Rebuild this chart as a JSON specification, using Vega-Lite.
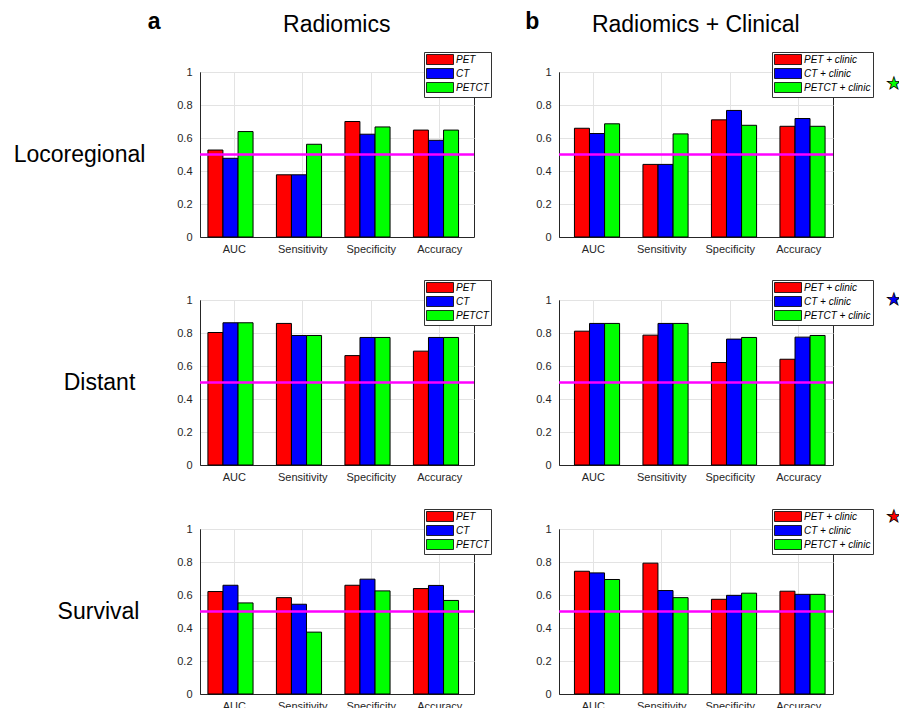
{
  "$schema": "https://vega.github.io/schema/vega-lite/v6.json",
  "padding": {"left": 12, "top": 10, "right": 5, "bottom": 5},
  "background": "white",
  "datasets": {
    "scores": [
      {"outcome": "Locoregional", "set": "a", "metric": "AUC", "model": "PET", "value": 0.527},
      {"outcome": "Locoregional", "set": "a", "metric": "AUC", "model": "CT", "value": 0.477},
      {"outcome": "Locoregional", "set": "a", "metric": "AUC", "model": "PETCT", "value": 0.639},
      {"outcome": "Locoregional", "set": "a", "metric": "Sensitivity", "model": "PET", "value": 0.377},
      {"outcome": "Locoregional", "set": "a", "metric": "Sensitivity", "model": "CT", "value": 0.377},
      {"outcome": "Locoregional", "set": "a", "metric": "Sensitivity", "model": "PETCT", "value": 0.562},
      {"outcome": "Locoregional", "set": "a", "metric": "Specificity", "model": "PET", "value": 0.700},
      {"outcome": "Locoregional", "set": "a", "metric": "Specificity", "model": "CT", "value": 0.623},
      {"outcome": "Locoregional", "set": "a", "metric": "Specificity", "model": "PETCT", "value": 0.667},
      {"outcome": "Locoregional", "set": "a", "metric": "Accuracy", "model": "PET", "value": 0.648},
      {"outcome": "Locoregional", "set": "a", "metric": "Accuracy", "model": "CT", "value": 0.586},
      {"outcome": "Locoregional", "set": "a", "metric": "Accuracy", "model": "PETCT", "value": 0.648},
      {"outcome": "Locoregional", "set": "b", "metric": "AUC", "model": "PET + clinic", "value": 0.659},
      {"outcome": "Locoregional", "set": "b", "metric": "AUC", "model": "CT + clinic", "value": 0.627},
      {"outcome": "Locoregional", "set": "b", "metric": "AUC", "model": "PETCT + clinic", "value": 0.686},
      {"outcome": "Locoregional", "set": "b", "metric": "Sensitivity", "model": "PET + clinic", "value": 0.440},
      {"outcome": "Locoregional", "set": "b", "metric": "Sensitivity", "model": "CT + clinic", "value": 0.440},
      {"outcome": "Locoregional", "set": "b", "metric": "Sensitivity", "model": "PETCT + clinic", "value": 0.625},
      {"outcome": "Locoregional", "set": "b", "metric": "Specificity", "model": "PET + clinic", "value": 0.710},
      {"outcome": "Locoregional", "set": "b", "metric": "Specificity", "model": "CT + clinic", "value": 0.767},
      {"outcome": "Locoregional", "set": "b", "metric": "Specificity", "model": "PETCT + clinic", "value": 0.677},
      {"outcome": "Locoregional", "set": "b", "metric": "Accuracy", "model": "PET + clinic", "value": 0.671},
      {"outcome": "Locoregional", "set": "b", "metric": "Accuracy", "model": "CT + clinic", "value": 0.718},
      {"outcome": "Locoregional", "set": "b", "metric": "Accuracy", "model": "PETCT + clinic", "value": 0.671},
      {"outcome": "Distant", "set": "a", "metric": "AUC", "model": "PET", "value": 0.803},
      {"outcome": "Distant", "set": "a", "metric": "AUC", "model": "CT", "value": 0.862},
      {"outcome": "Distant", "set": "a", "metric": "AUC", "model": "PETCT", "value": 0.862},
      {"outcome": "Distant", "set": "a", "metric": "Sensitivity", "model": "PET", "value": 0.858},
      {"outcome": "Distant", "set": "a", "metric": "Sensitivity", "model": "CT", "value": 0.785},
      {"outcome": "Distant", "set": "a", "metric": "Sensitivity", "model": "PETCT", "value": 0.785},
      {"outcome": "Distant", "set": "a", "metric": "Specificity", "model": "PET", "value": 0.663},
      {"outcome": "Distant", "set": "a", "metric": "Specificity", "model": "CT", "value": 0.773},
      {"outcome": "Distant", "set": "a", "metric": "Specificity", "model": "PETCT", "value": 0.773},
      {"outcome": "Distant", "set": "a", "metric": "Accuracy", "model": "PET", "value": 0.690},
      {"outcome": "Distant", "set": "a", "metric": "Accuracy", "model": "CT", "value": 0.773},
      {"outcome": "Distant", "set": "a", "metric": "Accuracy", "model": "PETCT", "value": 0.773},
      {"outcome": "Distant", "set": "b", "metric": "AUC", "model": "PET + clinic", "value": 0.811},
      {"outcome": "Distant", "set": "b", "metric": "AUC", "model": "CT + clinic", "value": 0.858},
      {"outcome": "Distant", "set": "b", "metric": "AUC", "model": "PETCT + clinic", "value": 0.858},
      {"outcome": "Distant", "set": "b", "metric": "Sensitivity", "model": "PET + clinic", "value": 0.787},
      {"outcome": "Distant", "set": "b", "metric": "Sensitivity", "model": "CT + clinic", "value": 0.858},
      {"outcome": "Distant", "set": "b", "metric": "Sensitivity", "model": "PETCT + clinic", "value": 0.858},
      {"outcome": "Distant", "set": "b", "metric": "Specificity", "model": "PET + clinic", "value": 0.621},
      {"outcome": "Distant", "set": "b", "metric": "Specificity", "model": "CT + clinic", "value": 0.763},
      {"outcome": "Distant", "set": "b", "metric": "Specificity", "model": "PETCT + clinic", "value": 0.773},
      {"outcome": "Distant", "set": "b", "metric": "Accuracy", "model": "PET + clinic", "value": 0.641},
      {"outcome": "Distant", "set": "b", "metric": "Accuracy", "model": "CT + clinic", "value": 0.775},
      {"outcome": "Distant", "set": "b", "metric": "Accuracy", "model": "PETCT + clinic", "value": 0.785},
      {"outcome": "Survival", "set": "a", "metric": "AUC", "model": "PET", "value": 0.621},
      {"outcome": "Survival", "set": "a", "metric": "AUC", "model": "CT", "value": 0.659},
      {"outcome": "Survival", "set": "a", "metric": "AUC", "model": "PETCT", "value": 0.552},
      {"outcome": "Survival", "set": "a", "metric": "Sensitivity", "model": "PET", "value": 0.584},
      {"outcome": "Survival", "set": "a", "metric": "Sensitivity", "model": "CT", "value": 0.544},
      {"outcome": "Survival", "set": "a", "metric": "Sensitivity", "model": "PETCT", "value": 0.375},
      {"outcome": "Survival", "set": "a", "metric": "Specificity", "model": "PET", "value": 0.659},
      {"outcome": "Survival", "set": "a", "metric": "Specificity", "model": "CT", "value": 0.696},
      {"outcome": "Survival", "set": "a", "metric": "Specificity", "model": "PETCT", "value": 0.625},
      {"outcome": "Survival", "set": "a", "metric": "Accuracy", "model": "PET", "value": 0.639},
      {"outcome": "Survival", "set": "a", "metric": "Accuracy", "model": "CT", "value": 0.658},
      {"outcome": "Survival", "set": "a", "metric": "Accuracy", "model": "PETCT", "value": 0.567},
      {"outcome": "Survival", "set": "b", "metric": "AUC", "model": "PET + clinic", "value": 0.744},
      {"outcome": "Survival", "set": "b", "metric": "AUC", "model": "CT + clinic", "value": 0.734},
      {"outcome": "Survival", "set": "b", "metric": "AUC", "model": "PETCT + clinic", "value": 0.694},
      {"outcome": "Survival", "set": "b", "metric": "Sensitivity", "model": "PET + clinic", "value": 0.793},
      {"outcome": "Survival", "set": "b", "metric": "Sensitivity", "model": "CT + clinic", "value": 0.627},
      {"outcome": "Survival", "set": "b", "metric": "Sensitivity", "model": "PETCT + clinic", "value": 0.584},
      {"outcome": "Survival", "set": "b", "metric": "Specificity", "model": "PET + clinic", "value": 0.574},
      {"outcome": "Survival", "set": "b", "metric": "Specificity", "model": "CT + clinic", "value": 0.598},
      {"outcome": "Survival", "set": "b", "metric": "Specificity", "model": "PETCT + clinic", "value": 0.611},
      {"outcome": "Survival", "set": "b", "metric": "Accuracy", "model": "PET + clinic", "value": 0.623},
      {"outcome": "Survival", "set": "b", "metric": "Accuracy", "model": "CT + clinic", "value": 0.604},
      {"outcome": "Survival", "set": "b", "metric": "Accuracy", "model": "PETCT + clinic", "value": 0.604}
    ],
    "chance": [{"chance": 0.5}],
    "panels": [{"set": "a", "heading": "Radiomics"}, {"set": "b", "heading": "Radiomics + Clinical"}],
    "best": [
      {"outcome": "Locoregional", "best": "PETCT + clinic"},
      {"outcome": "Distant", "best": "CT + clinic"},
      {"outcome": "Survival", "best": "PET + clinic"}
    ]
  },
  "config": {
    "font": "Liberation Sans",
    "view": {"stroke": "#262626", "strokeWidth": 1},
    "scale": {"offsetBandPaddingInner": 0, "offsetBandPaddingOuter": 0},
    "axis": {
      "labelFont": "Liberation Sans", "labelFontSize": 11, "labelColor": "#262626",
      "domainColor": "#262626", "gridColor": "#e3e3e3", "ticks": false, "labelPadding": 5,
      "labelOverlap": false
    },
    "axisX": {"labelAngle": 0, "grid": true, "labelPadding": 6},
    "axisY": {"labelPadding": 8, "labelOverlap": false, "labelFlush": false, "labelBound": false, "labelSeparation": 0},
    "legend": {
      "title": null,
      "strokeColor": "#333333", "fillColor": "white", "padding": 2,
      "symbolType": "M-1,-1H4.4V1H-1Z", "symbolSize": 100,
      "symbolStrokeColor": "#000000", "symbolStrokeWidth": 0.8,
      "labelFont": "Liberation Sans", "labelFontStyle": "italic", "labelFontSize": 10,
      "labelColor": "#000000", "labelOffset": 19, "rowPadding": -1
    }
  },
  "columns": 2,
  "spacing": {"row": 24, "column": 32},
  "resolve": {"scale": {"color": "independent"}, "legend": {"color": "independent"}},
  "concat": [
    {
      "width": 274, "height": 165,
      "layer": [
        {
          "data": {"name": "scores"},
          "transform": [{"filter": "datum.outcome === 'Locoregional' && datum.set === 'a'"}],
          "mark": {"type": "bar", "stroke": "#000000", "strokeWidth": 1, "width": 15},
          "encoding": {
            "x": {"field": "metric", "type": "nominal", "sort": ["AUC", "Sensitivity", "Specificity", "Accuracy"], "scale": {"paddingInner": 0.34, "paddingOuter": 0.17}, "axis": {"title": null}},
            "xOffset": {"field": "model", "type": "nominal", "sort": ["PET", "CT", "PETCT"], "scale": {"paddingInner": 0}},
            "y": {"field": "value", "type": "quantitative", "scale": {"domain": [0, 1]}, "axis": {"values": [0, 0.2, 0.4, 0.6, 0.8, 1], "format": "~g", "labelOverlap": false, "title": "Locoregional", "titleAngle": 0, "titleX": -121, "titleY": 82, "titleAlign": "center", "titleBaseline": "middle", "titleFontSize": 23, "titleFontWeight": "normal", "titleColor": "#000000"}},
            "color": {"field": "model", "type": "nominal", "scale": {"domain": ["PET", "CT", "PETCT"], "range": ["#FF0000", "#0000FF", "#00FF00"]}, "legend": {"orient": "none", "legendX": 224, "legendY": -20}}
          }
        },
        {
          "data": {"name": "chance"},
          "mark": {"type": "rule", "color": "#FF00FF", "strokeWidth": 2.5},
          "encoding": {"y": {"field": "chance", "type": "quantitative", "axis": {"values": [0, 0.2, 0.4, 0.6, 0.8, 1], "format": "~g", "labelOverlap": false, "title": "Locoregional", "titleAngle": 0, "titleX": -121, "titleY": 82, "titleAlign": "center", "titleBaseline": "middle", "titleFontSize": 23, "titleFontWeight": "normal", "titleColor": "#000000"}}}
        },
        {
          "data": {"name": "panels"},
          "transform": [{"filter": "datum.set === 'a'"}],
          "mark": {"type": "text", "fontSize": 23, "fontWeight": "bold", "baseline": "middle", "align": "center", "dx": -80, "dy": -50, "color": "#000000"},
          "encoding": {"x": {"datum": "AUC", "type": "nominal"}, "y": {"datum": 1, "type": "quantitative", "axis": {"values": [0, 0.2, 0.4, 0.6, 0.8, 1], "format": "~g", "labelOverlap": false, "title": "Locoregional", "titleAngle": 0, "titleX": -121, "titleY": 82, "titleAlign": "center", "titleBaseline": "middle", "titleFontSize": 23, "titleFontWeight": "normal", "titleColor": "#000000"}}, "text": {"field": "set", "type": "nominal"}}
        },
        {
          "data": {"name": "panels"},
          "transform": [{"filter": "datum.set === 'a'"}],
          "mark": {"type": "text", "fontSize": 23, "fontWeight": "normal", "baseline": "middle", "align": "center", "dx": 34, "dy": -47, "color": "#000000"},
          "encoding": {"x": {"datum": "Sensitivity", "type": "nominal"}, "y": {"datum": 1, "type": "quantitative", "axis": {"values": [0, 0.2, 0.4, 0.6, 0.8, 1], "format": "~g", "labelOverlap": false, "title": "Locoregional", "titleAngle": 0, "titleX": -121, "titleY": 82, "titleAlign": "center", "titleBaseline": "middle", "titleFontSize": 23, "titleFontWeight": "normal", "titleColor": "#000000"}}, "text": {"field": "heading", "type": "nominal"}}
        }
      ]
    },
    {
      "width": 274, "height": 165,
      "layer": [
        {
          "data": {"name": "scores"},
          "transform": [{"filter": "datum.outcome === 'Locoregional' && datum.set === 'b'"}],
          "mark": {"type": "bar", "stroke": "#000000", "strokeWidth": 1, "width": 15},
          "encoding": {
            "x": {"field": "metric", "type": "nominal", "sort": ["AUC", "Sensitivity", "Specificity", "Accuracy"], "scale": {"paddingInner": 0.34, "paddingOuter": 0.17}, "axis": {"title": null}},
            "xOffset": {"field": "model", "type": "nominal", "sort": ["PET + clinic", "CT + clinic", "PETCT + clinic"], "scale": {"paddingInner": 0}},
            "y": {"field": "value", "type": "quantitative", "scale": {"domain": [0, 1]}, "axis": {"values": [0, 0.2, 0.4, 0.6, 0.8, 1], "format": "~g", "labelOverlap": false, "title": null}},
            "color": {"field": "model", "type": "nominal", "scale": {"domain": ["PET + clinic", "CT + clinic", "PETCT + clinic"], "range": ["#FF0000", "#0000FF", "#00FF00"]}, "legend": {"orient": "none", "legendX": 213, "legendY": -20}}
          }
        },
        {
          "data": {"name": "chance"},
          "mark": {"type": "rule", "color": "#FF00FF", "strokeWidth": 2.5},
          "encoding": {"y": {"field": "chance", "type": "quantitative", "axis": {"values": [0, 0.2, 0.4, 0.6, 0.8, 1], "format": "~g", "labelOverlap": false, "title": null}}}
        },
        {
          "data": {"name": "panels"},
          "transform": [{"filter": "datum.set === 'b'"}],
          "mark": {"type": "text", "fontSize": 23, "fontWeight": "bold", "baseline": "middle", "align": "center", "dx": -61, "dy": -50, "color": "#000000"},
          "encoding": {"x": {"datum": "AUC", "type": "nominal"}, "y": {"datum": 1, "type": "quantitative", "axis": {"values": [0, 0.2, 0.4, 0.6, 0.8, 1], "format": "~g", "labelOverlap": false, "title": null}}, "text": {"field": "set", "type": "nominal"}}
        },
        {
          "data": {"name": "panels"},
          "transform": [{"filter": "datum.set === 'b'"}],
          "mark": {"type": "text", "fontSize": 23, "fontWeight": "normal", "baseline": "middle", "align": "center", "dx": 34, "dy": -47, "color": "#000000"},
          "encoding": {"x": {"datum": "Sensitivity", "type": "nominal"}, "y": {"datum": 1, "type": "quantitative", "axis": {"values": [0, 0.2, 0.4, 0.6, 0.8, 1], "format": "~g", "labelOverlap": false, "title": null}}, "text": {"field": "heading", "type": "nominal"}}
        },
        {
          "data": {"name": "best"},
          "transform": [{"filter": "datum.outcome === 'Locoregional'"}],
          "mark": {"type": "text", "text": "★", "font": "DejaVu Sans", "fontSize": 17, "baseline": "middle", "align": "center", "dx": 95, "dy": 12, "fill": "#00FF00", "stroke": "#000000", "strokeWidth": 0.8},
          "encoding": {"x": {"datum": "Accuracy", "type": "nominal"}, "y": {"datum": 1, "type": "quantitative", "axis": {"values": [0, 0.2, 0.4, 0.6, 0.8, 1], "format": "~g", "labelOverlap": false, "title": null}}}
        }
      ]
    },
    {
      "width": 274, "height": 165,
      "layer": [
        {
          "data": {"name": "scores"},
          "transform": [{"filter": "datum.outcome === 'Distant' && datum.set === 'a'"}],
          "mark": {"type": "bar", "stroke": "#000000", "strokeWidth": 1, "width": 15},
          "encoding": {
            "x": {"field": "metric", "type": "nominal", "sort": ["AUC", "Sensitivity", "Specificity", "Accuracy"], "scale": {"paddingInner": 0.34, "paddingOuter": 0.17}, "axis": {"title": null}},
            "xOffset": {"field": "model", "type": "nominal", "sort": ["PET", "CT", "PETCT"], "scale": {"paddingInner": 0}},
            "y": {"field": "value", "type": "quantitative", "scale": {"domain": [0, 1]}, "axis": {"values": [0, 0.2, 0.4, 0.6, 0.8, 1], "format": "~g", "labelOverlap": false, "title": "Distant", "titleAngle": 0, "titleX": -101, "titleY": 82, "titleAlign": "center", "titleBaseline": "middle", "titleFontSize": 23, "titleFontWeight": "normal", "titleColor": "#000000"}},
            "color": {"field": "model", "type": "nominal", "scale": {"domain": ["PET", "CT", "PETCT"], "range": ["#FF0000", "#0000FF", "#00FF00"]}, "legend": {"orient": "none", "legendX": 224, "legendY": -20}}
          }
        },
        {
          "data": {"name": "chance"},
          "mark": {"type": "rule", "color": "#FF00FF", "strokeWidth": 2.5},
          "encoding": {"y": {"field": "chance", "type": "quantitative", "axis": {"values": [0, 0.2, 0.4, 0.6, 0.8, 1], "format": "~g", "labelOverlap": false, "title": "Distant", "titleAngle": 0, "titleX": -101, "titleY": 82, "titleAlign": "center", "titleBaseline": "middle", "titleFontSize": 23, "titleFontWeight": "normal", "titleColor": "#000000"}}}
        }
      ]
    },
    {
      "width": 274, "height": 165,
      "layer": [
        {
          "data": {"name": "scores"},
          "transform": [{"filter": "datum.outcome === 'Distant' && datum.set === 'b'"}],
          "mark": {"type": "bar", "stroke": "#000000", "strokeWidth": 1, "width": 15},
          "encoding": {
            "x": {"field": "metric", "type": "nominal", "sort": ["AUC", "Sensitivity", "Specificity", "Accuracy"], "scale": {"paddingInner": 0.34, "paddingOuter": 0.17}, "axis": {"title": null}},
            "xOffset": {"field": "model", "type": "nominal", "sort": ["PET + clinic", "CT + clinic", "PETCT + clinic"], "scale": {"paddingInner": 0}},
            "y": {"field": "value", "type": "quantitative", "scale": {"domain": [0, 1]}, "axis": {"values": [0, 0.2, 0.4, 0.6, 0.8, 1], "format": "~g", "labelOverlap": false, "title": null}},
            "color": {"field": "model", "type": "nominal", "scale": {"domain": ["PET + clinic", "CT + clinic", "PETCT + clinic"], "range": ["#FF0000", "#0000FF", "#00FF00"]}, "legend": {"orient": "none", "legendX": 213, "legendY": -20}}
          }
        },
        {
          "data": {"name": "chance"},
          "mark": {"type": "rule", "color": "#FF00FF", "strokeWidth": 2.5},
          "encoding": {"y": {"field": "chance", "type": "quantitative", "axis": {"values": [0, 0.2, 0.4, 0.6, 0.8, 1], "format": "~g", "labelOverlap": false, "title": null}}}
        },
        {
          "data": {"name": "best"},
          "transform": [{"filter": "datum.outcome === 'Distant'"}],
          "mark": {"type": "text", "text": "★", "font": "DejaVu Sans", "fontSize": 17, "baseline": "middle", "align": "center", "dx": 95, "dy": 0, "fill": "#0000FF", "stroke": "#000000", "strokeWidth": 0.8},
          "encoding": {"x": {"datum": "Accuracy", "type": "nominal"}, "y": {"datum": 1, "type": "quantitative", "axis": {"values": [0, 0.2, 0.4, 0.6, 0.8, 1], "format": "~g", "labelOverlap": false, "title": null}}}
        }
      ]
    },
    {
      "width": 274, "height": 165,
      "layer": [
        {
          "data": {"name": "scores"},
          "transform": [{"filter": "datum.outcome === 'Survival' && datum.set === 'a'"}],
          "mark": {"type": "bar", "stroke": "#000000", "strokeWidth": 1, "width": 15},
          "encoding": {
            "x": {"field": "metric", "type": "nominal", "sort": ["AUC", "Sensitivity", "Specificity", "Accuracy"], "scale": {"paddingInner": 0.34, "paddingOuter": 0.17}, "axis": {"title": null}},
            "xOffset": {"field": "model", "type": "nominal", "sort": ["PET", "CT", "PETCT"], "scale": {"paddingInner": 0}},
            "y": {"field": "value", "type": "quantitative", "scale": {"domain": [0, 1]}, "axis": {"values": [0, 0.2, 0.4, 0.6, 0.8, 1], "format": "~g", "labelOverlap": false, "title": "Survival", "titleAngle": 0, "titleX": -102, "titleY": 82, "titleAlign": "center", "titleBaseline": "middle", "titleFontSize": 23, "titleFontWeight": "normal", "titleColor": "#000000"}},
            "color": {"field": "model", "type": "nominal", "scale": {"domain": ["PET", "CT", "PETCT"], "range": ["#FF0000", "#0000FF", "#00FF00"]}, "legend": {"orient": "none", "legendX": 224, "legendY": -20}}
          }
        },
        {
          "data": {"name": "chance"},
          "mark": {"type": "rule", "color": "#FF00FF", "strokeWidth": 2.5},
          "encoding": {"y": {"field": "chance", "type": "quantitative", "axis": {"values": [0, 0.2, 0.4, 0.6, 0.8, 1], "format": "~g", "labelOverlap": false, "title": "Survival", "titleAngle": 0, "titleX": -102, "titleY": 82, "titleAlign": "center", "titleBaseline": "middle", "titleFontSize": 23, "titleFontWeight": "normal", "titleColor": "#000000"}}}
        }
      ]
    },
    {
      "width": 274, "height": 165,
      "layer": [
        {
          "data": {"name": "scores"},
          "transform": [{"filter": "datum.outcome === 'Survival' && datum.set === 'b'"}],
          "mark": {"type": "bar", "stroke": "#000000", "strokeWidth": 1, "width": 15},
          "encoding": {
            "x": {"field": "metric", "type": "nominal", "sort": ["AUC", "Sensitivity", "Specificity", "Accuracy"], "scale": {"paddingInner": 0.34, "paddingOuter": 0.17}, "axis": {"title": null}},
            "xOffset": {"field": "model", "type": "nominal", "sort": ["PET + clinic", "CT + clinic", "PETCT + clinic"], "scale": {"paddingInner": 0}},
            "y": {"field": "value", "type": "quantitative", "scale": {"domain": [0, 1]}, "axis": {"values": [0, 0.2, 0.4, 0.6, 0.8, 1], "format": "~g", "labelOverlap": false, "title": null}},
            "color": {"field": "model", "type": "nominal", "scale": {"domain": ["PET + clinic", "CT + clinic", "PETCT + clinic"], "range": ["#FF0000", "#0000FF", "#00FF00"]}, "legend": {"orient": "none", "legendX": 213, "legendY": -20}}
          }
        },
        {
          "data": {"name": "chance"},
          "mark": {"type": "rule", "color": "#FF00FF", "strokeWidth": 2.5},
          "encoding": {"y": {"field": "chance", "type": "quantitative", "axis": {"values": [0, 0.2, 0.4, 0.6, 0.8, 1], "format": "~g", "labelOverlap": false, "title": null}}}
        },
        {
          "data": {"name": "best"},
          "transform": [{"filter": "datum.outcome === 'Survival'"}],
          "mark": {"type": "text", "text": "★", "font": "DejaVu Sans", "fontSize": 17, "baseline": "middle", "align": "center", "dx": 95, "dy": -12, "fill": "#FF0000", "stroke": "#000000", "strokeWidth": 0.8},
          "encoding": {"x": {"datum": "Accuracy", "type": "nominal"}, "y": {"datum": 1, "type": "quantitative", "axis": {"values": [0, 0.2, 0.4, 0.6, 0.8, 1], "format": "~g", "labelOverlap": false, "title": null}}}
        }
      ]
    }
  ]
}
